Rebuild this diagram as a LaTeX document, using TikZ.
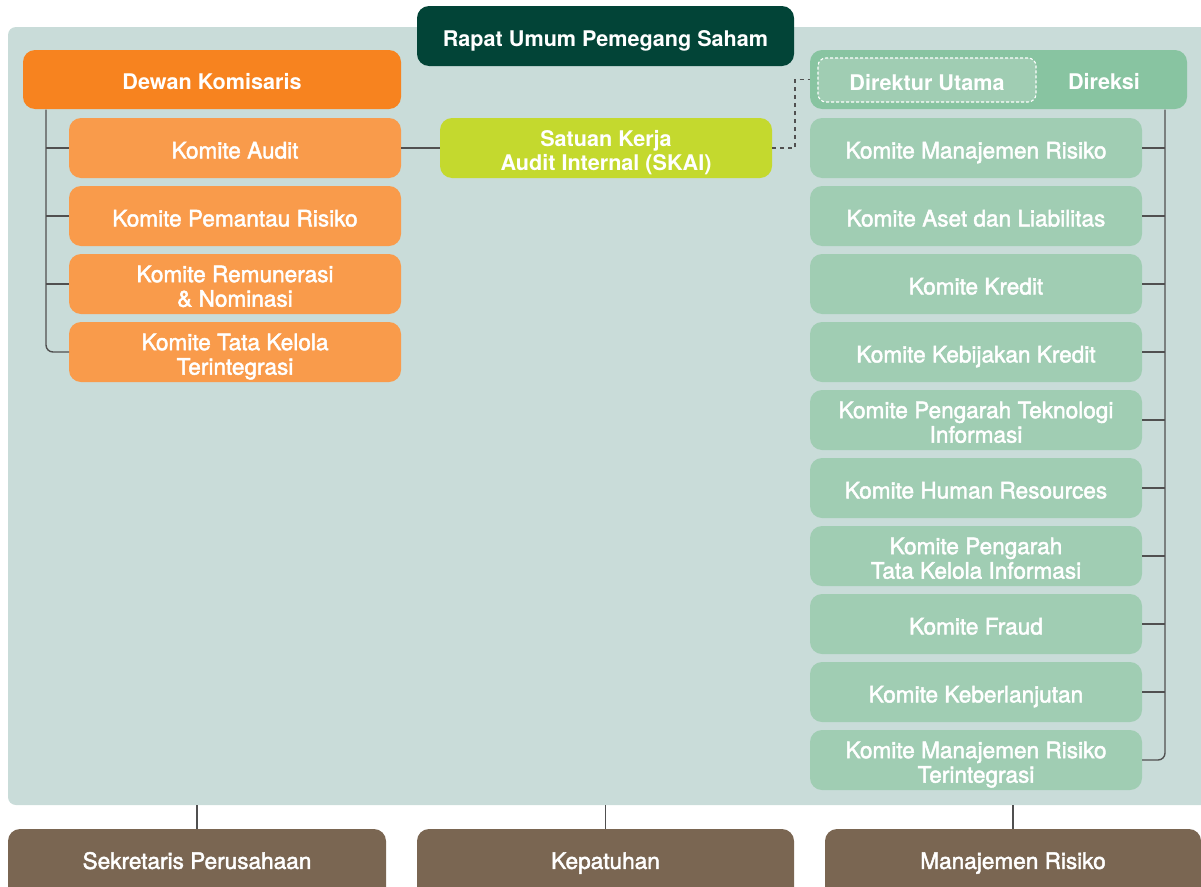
\documentclass[tikz,border=0pt]{standalone}
\usepackage{fontspec}
\setmainfont{TeX Gyre Heros}
\newfontfamily\medfont{TeX Gyre Heros}[FakeBold=2]
\definecolor{panelc}{HTML}{C9DCD9}
\definecolor{rupsc}{HTML}{024437}
\definecolor{orangec}{HTML}{F7831F}
\definecolor{lorangec}{HTML}{F99B4B}
\definecolor{skaic}{HTML}{C4D92E}
\definecolor{direksic}{HTML}{88C4A1}
\definecolor{greenc}{HTML}{A0CDB3}
\definecolor{brownc}{HTML}{7A6652}
\definecolor{linec}{HTML}{505050}
\newcommand\tx[1]{\raisebox{0pt}[\dimexpr\height+11pt\relax]{\begin{tabular}{@{}c@{}}#1\end{tabular}}}
\tikzset{
  x=1pt,y=-1pt,
  boxbase/.style={rounded corners=12pt, inner sep=0pt, outer sep=0pt, draw=none, text=white, align=center,
    font=\medfont\fontsize{22.6pt}{24.5pt}\selectfont},
  boldtxt/.style={font=\fontsize{21.6pt}{24.5pt}\selectfont\bfseries},
  headbox/.style={boxbase, boldtxt, minimum height=59pt},
  okbox/.style={boxbase, fill=lorangec, minimum width=332pt, minimum height=60pt},
  gkbox/.style={boxbase, fill=greenc, minimum width=332pt, minimum height=60pt},
  bbox/.style={boxbase, fill=brownc, minimum height=70pt, anchor=north},
  conn/.style={draw=linec, line width=1.4pt},
  dconn/.style={draw=linec, line width=1.2pt, dash pattern=on 4pt off 4pt},
}
\begin{document}
\begin{tikzpicture}
\useasboundingbox (0,0) rectangle (1201,886);
\clip (0,0) rectangle (1201,886);
% panel
\node[fill=panelc, rounded corners=8pt, minimum width=1210pt, minimum height=778pt, inner sep=0pt, outer sep=0pt] (panel) at (613,416) {};
% top
\node[headbox, fill=rupsc, minimum width=377pt, minimum height=60pt] (rups) at (605.5,36) {\tx{Rapat Umum Pemegang Saham}};
\node[headbox, fill=orangec, minimum width=378pt] (dk) at (212,79.5) {\tx{Dewan Komisaris}};
\node[headbox, fill=direksic, minimum width=377pt] (dir) at (998.5,79.5) {};
\node[boxbase, boldtxt, fill=greenc, draw=white, dash pattern=on 3pt off 2pt, line width=1.1pt, rounded corners=8pt, minimum width=218pt, minimum height=44pt] (du) at (927,80) {\tx{Direktur Utama}};
\node[boxbase, boldtxt] (dirt) at (1104,79.5) {\tx{Direksi}};
% left committees
\node[okbox] (k1) at (235,148) {\tx{Komite Audit}};
\node[okbox] (k2) at (235,216) {\tx{Komite Pemantau Risiko}};
\node[okbox] (k3) at (235,284) {\tx{Komite Remunerasi\\\& Nominasi}};
\node[okbox] (k4) at (235,352) {\tx{Komite Tata Kelola\\Terintegrasi}};
% SKAI
\node[boxbase, boldtxt, fill=skaic, minimum width=332pt, minimum height=60pt] (skai) at (606,148) {\tx{Satuan Kerja\\Audit Internal (SKAI)}};
% right committees
\node[gkbox] (g1) at (976,148) {\tx{Komite Manajemen Risiko}};
\node[gkbox] (g2) at (976,216) {\tx{Komite Aset dan Liabilitas}};
\node[gkbox] (g3) at (976,284) {\tx{Komite Kredit}};
\node[gkbox] (g4) at (976,352) {\tx{Komite Kebijakan Kredit}};
\node[gkbox] (g5) at (976,420) {\tx{Komite Pengarah Teknologi\\Informasi}};
\node[gkbox] (g6) at (976,488) {\tx{Komite Human Resources}};
\node[gkbox] (g7) at (976,556) {\tx{Komite Pengarah\\Tata Kelola Informasi}};
\node[gkbox] (g8) at (976,624) {\tx{Komite Fraud}};
\node[gkbox] (g9) at (976,692) {\tx{Komite Keberlanjutan}};
\node[gkbox] (g10) at (976,760) {\tx{Komite Manajemen Risiko\\Terintegrasi}};
% bottom
\node[bbox, minimum width=378pt] (b1) at (197,829) {};
\node[bbox, minimum width=377pt] (b2) at (605.5,829) {};
\node[bbox, minimum width=376pt] (b3) at (1013,829) {};
\node[boxbase] (b1t) at (197,858.5) {\tx{Sekretaris Perusahaan}};
\node[boxbase] (b2t) at (605.5,858.5) {\tx{Kepatuhan}};
\node[boxbase] (b3t) at (1013,858.5) {\tx{Manajemen Risiko}};
% connectors left
\coordinate (lt) at (46,109.5);
\draw[conn, rounded corners=7pt] (lt) |- (k4.west);
\foreach \k in {k1,k2,k3} \draw[conn] (\k.west -| lt) -- (\k.west);
% connectors right
\coordinate (rt) at (1165,109.5);
\draw[conn, rounded corners=7pt] (rt) |- (g10.east);
\foreach \k in {g1,g2,g3,g4,g5,g6,g7,g8,g9} \draw[conn] (\k.east) -- (\k.east -| rt);
% skai
\draw[conn] (k1.east) -- (skai.west);
\coordinate (dturn) at (795,148);
\draw[dconn] (skai.east) -- (dturn) |- (dir.west);
% bottom lines
\foreach \b in {b1,b2,b3} \draw[conn] (\b.north |- panel.south) -- (\b.north);
\end{tikzpicture}
\end{document}
